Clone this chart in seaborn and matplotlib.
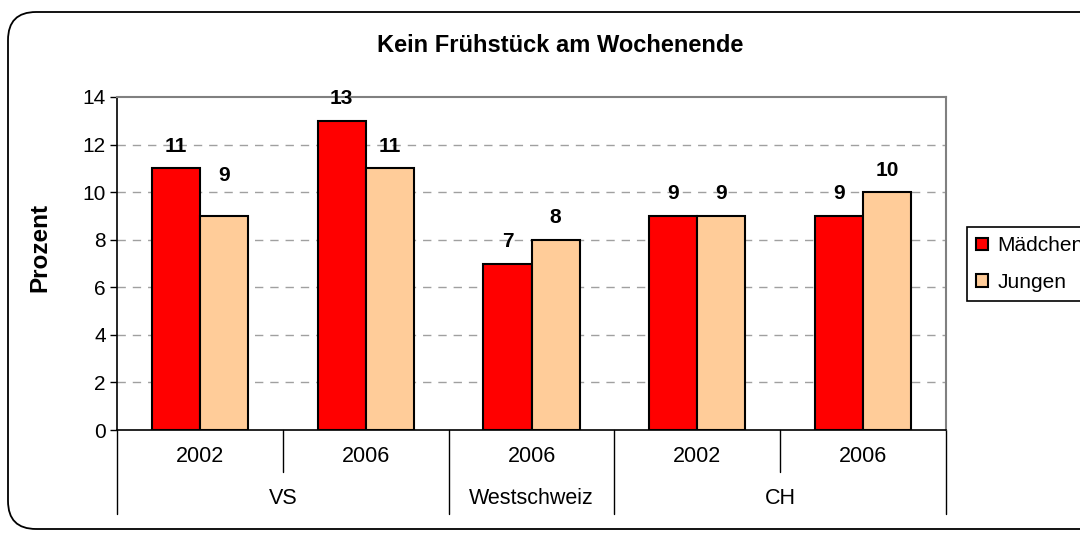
import matplotlib
matplotlib.use("Agg")
import matplotlib.pyplot as plt
import seaborn as sns
import pandas as pd
from matplotlib.patches import FancyBboxPatch
from matplotlib.lines import Line2D

categories = ["VS 2002", "VS 2006", "Westschweiz 2006", "CH 2002", "CH 2006"]
years = ["2002", "2006", "2006", "2002", "2006"]
groups = ["VS", "Westschweiz", "CH"]
group_spans = [(0, 1), (2, 2), (3, 4)]
maedchen = [11, 13, 7, 9, 9]
jungen = [9, 11, 8, 9, 10]
series = ["Mädchen", "Jungen"]
colors = ["#FF0000", "#FFCC99"]
# label padding (points) per series, per category
label_pad = [[9, 9, 9, 9, 9], [22, 9, 9, 9, 9]]

df = pd.DataFrame({
    "Kategorie": categories * 2,
    "Prozent": maedchen + jungen,
    "Geschlecht": [series[0]] * len(categories) + [series[1]] * len(categories),
})

sns.set_theme(style="white")
plt.rcParams["font.family"] = ["Liberation Sans", "DejaVu Sans"]
plt.rcParams["text.color"] = "black"
plt.rcParams["axes.labelcolor"] = "black"
plt.rcParams["xtick.color"] = "black"
plt.rcParams["ytick.color"] = "black"

fig = plt.figure(figsize=(10.8, 5.33), dpi=100)
ax = fig.add_axes([117 / 1080, 1 - 430 / 533, (946 - 117) / 1080, (430 - 97) / 533])

sns.barplot(data=df, x="Kategorie", y="Prozent", hue="Geschlecht",
            palette=colors, width=0.58, edgecolor="black", linewidth=1.5,
            saturation=1, ax=ax, legend=True, zorder=3)

ax.set_ylim(0, 14)
ax.set_xlim(-0.5, len(categories) - 0.5)
ax.set_yticks(range(0, 15, 2))
ax.tick_params(axis="y", labelsize=15, length=5, width=1, color="black", labelcolor="black",
               direction="out", left=True, pad=3)
ax.tick_params(axis="x", bottom=False, labelbottom=False)
ax.set_xlabel("")
ax.set_ylabel("")

for y in range(2, 14, 2):
    ax.axhline(y, color="#a0a0a0", linestyle=(0, (6, 5)), linewidth=1, zorder=1)

for side in ["top", "right"]:
    ax.spines[side].set_color("#808080")
    ax.spines[side].set_linewidth(1.5)
for side in ["left", "bottom"]:
    ax.spines[side].set_color("black")
    ax.spines[side].set_linewidth(1.2)

for cont, pads in zip(ax.containers, label_pad):
    for bar, pad in zip(cont, pads):
        h = bar.get_height()
        ax.annotate(f"{h:.0f}", (bar.get_x() + bar.get_width() / 2, h),
                    xytext=(0, pad), textcoords="offset points", ha="center", va="bottom",
                    fontsize=15, fontweight="bold", color="black", annotation_clip=False)

# multi-level category axis
trans = ax.get_xaxis_transform()
short_len = -42 / 333
long_len = -84 / 333
long_pos = [-0.5] + [s[1] + 0.5 for s in group_spans]
short_pos = []
for s0, s1 in group_spans:
    for k in range(s0, s1):
        short_pos.append(k + 0.5)
for xp in long_pos:
    ax.add_line(Line2D([xp, xp], [0, long_len], transform=trans, color="black", lw=1, clip_on=False))
for xp in short_pos:
    ax.add_line(Line2D([xp, xp], [0, short_len], transform=trans, color="black", lw=1, clip_on=False))
for i, yr in enumerate(years):
    ax.text(i, -26 / 333, yr, transform=trans, ha="center", va="center", fontsize=15.5,
            color="black", clip_on=False)
for g, (s0, s1) in zip(groups, group_spans):
    ax.text((s0 + s1) / 2, -68 / 333, g, transform=trans, ha="center", va="center", fontsize=15.5,
            color="black", clip_on=False)

# legend
handles, labels = ax.get_legend_handles_labels()
leg = ax.legend(handles, labels, loc="upper left", bbox_to_anchor=(967 / 1080, 1 - 227 / 533),
                bbox_transform=fig.transFigure, frameon=True, fancybox=False, edgecolor="black",
                fontsize=15, handlelength=0.55, handleheight=0.55, handletextpad=0.45,
                labelspacing=0.85, borderpad=0.45, borderaxespad=0, framealpha=1)
leg.get_frame().set_linewidth(1.2)
for t in leg.get_texts():
    t.set_color("black")

fig.text(560 / 1080, 1 - 46 / 533, "Kein Frühstück am Wochenende", ha="center", va="center",
         fontsize=17, fontweight="bold", color="black")
fig.text(40 / 1080, 1 - 248 / 533, "Prozent", ha="center", va="center", rotation=90,
         fontsize=17.5, fontweight="bold", color="black")

border = FancyBboxPatch((8 / 1080, 4 / 533), 1.05, 1 - 16 / 533,
                        boxstyle="round,pad=0,rounding_size=0.026",
                        transform=fig.transFigure, fill=False, edgecolor="black", lw=1.3,
                        mutation_aspect=1080 / 533, clip_on=False)
fig.patches.append(border)

fig.savefig("out.png", dpi=100)
